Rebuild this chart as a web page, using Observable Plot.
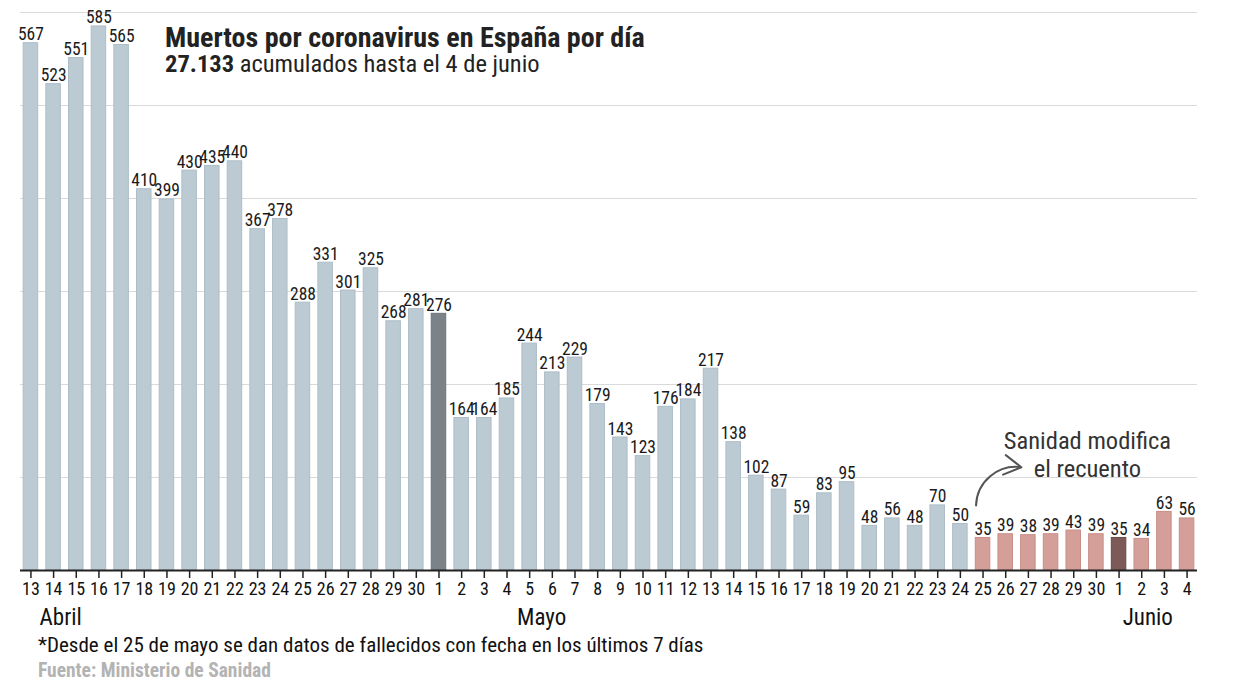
<!DOCTYPE html>
<html>
<head>
<meta charset="utf-8">
<script src="https://cdn.jsdelivr.net/npm/d3@7"></script>
<script src="https://cdn.jsdelivr.net/npm/@observablehq/plot@0.6"></script>
<style>
  body { margin: 0; background: #fff; font-family: "Roboto Condensed", "Liberation Sans Narrow", Roboto, sans-serif; }
  #wrap { position: relative; width: 1240px; height: 698px; }
  #title { position: absolute; left: 165px; top: 24px; font-size: 28px; font-weight: bold; color: #222; line-height: 28px; }
  #subtitle { position: absolute; left: 165px; top: 51px; font-size: 24.5px; color: #222; line-height: 26px; }
  #note { position: absolute; left: 38px; top: 632px; font-size: 21px; color: #111; line-height: 26px; }
  #source { position: absolute; left: 38px; top: 659px; font-size: 19.5px; font-weight: bold; color: #b3b3b3; line-height: 24px; }
  svg text { font-family: "Roboto Condensed", "Liberation Sans Narrow", Roboto, sans-serif; }
</style>
</head>
<body>
<div id="wrap">
  <div id="chart"></div>
  <div id="title">Muertos por coronavirus en España por día</div>
  <div id="subtitle"><b>27.133</b> acumulados hasta el 4 de junio</div>
  <div id="note">*Desde el 25 de mayo se dan datos de fallecidos con fecha en los últimos 7 días</div>
  <div id="source">Fuente: Ministerio de Sanidad</div>
</div>
<script>
const dates = [
  "2020-04-13","2020-04-14","2020-04-15","2020-04-16","2020-04-17","2020-04-18","2020-04-19","2020-04-20","2020-04-21","2020-04-22",
  "2020-04-23","2020-04-24","2020-04-25","2020-04-26","2020-04-27","2020-04-28","2020-04-29","2020-04-30",
  "2020-05-01","2020-05-02","2020-05-03","2020-05-04","2020-05-05","2020-05-06","2020-05-07","2020-05-08","2020-05-09","2020-05-10",
  "2020-05-11","2020-05-12","2020-05-13","2020-05-14","2020-05-15","2020-05-16","2020-05-17","2020-05-18","2020-05-19","2020-05-20",
  "2020-05-21","2020-05-22","2020-05-23","2020-05-24","2020-05-25","2020-05-26","2020-05-27","2020-05-28","2020-05-29","2020-05-30",
  "2020-06-01","2020-06-02","2020-06-03","2020-06-04"
];
const deaths = [
  567,523,551,585,565,410,399,430,435,440,
  367,378,288,331,301,325,268,281,
  276,164,164,185,244,213,229,179,143,123,
  176,184,217,138,102,87,59,83,95,48,
  56,48,70,50,35,39,38,39,43,39,
  35,34,63,56
];
const monthLabels = ["Abril","Mayo","Junio"];
const monthAnchors = ["2020-04-14","2020-05-05","2020-06-02"];
const changeDate = "2020-05-25";
const annotationText = "Sanidad modifica\nel recuento";

const data = dates.map((d, i) => ({
  date: d,
  value: deaths[i],
  first: d.slice(8) === "01",
  revised: d >= changeDate
}));

const fillOf = d => d.revised ? (d.first ? "#7c5a57" : "#d59f99") : (d.first ? "#7b8389" : "#bccad3");
const strokeOf = d => d.revised ? (d.first ? "#6a4a47" : "#c98d87") : (d.first ? "#6c747a" : "#adbdc7");

const monthMark = (i, dx) => Plot.text([{ date: monthAnchors[i], label: monthLabels[i] }], {
  x: "date", y: 0, text: "label", textAnchor: "middle", dx, dy: 47, fontSize: 23, fill: "#111"
});

const chart = Plot.plot({
  width: 1240,
  height: 632,
  marginLeft: 20,
  marginRight: 43,
  marginTop: 12,
  marginBottom: 62,
  x: { type: "band", domain: dates, paddingInner: 0.36, paddingOuter: 0.14, label: null },
  y: { domain: [0, 600], axis: null },
  marks: [
    Plot.gridY(d3.range(100, 601, 100), { stroke: "#dadada", strokeOpacity: 1, strokeWidth: 1 }),
    Plot.barY(data, { x: "date", y: "value", fill: fillOf, stroke: strokeOf, strokeWidth: 1 }),
    Plot.ruleY([0], { stroke: "#222", strokeWidth: 2 }),
    Plot.text(data, { x: "date", y: "value", text: d => String(d.value), lineAnchor: "bottom", dy: -3, fontSize: 17.5, fill: "#1a1a1a" }),
    Plot.axisX({ tickSize: 8, tickPadding: 4, fontSize: 18, tickFormat: d => String(+d.slice(8)), stroke: "#222", color: "#111", strokeWidth: 1.5, label: null }),
    monthMark(0, 7),
    monthMark(1, 12),
    monthMark(2, 6),
    Plot.arrow([{ x1: changeDate, y1: 70, x2: "2020-05-27", y2: 111 }], {
      x1: "x1", y1: "y1", x2: "x2", y2: "y2", bend: 48, dx: -7, stroke: "#555", strokeWidth: 2, headLength: 16
    }),
    Plot.text([{ date: "2020-05-30", label: annotationText }], {
      x: "date", y: 125, text: "label", dx: -9, fontSize: 24.5, fill: "#333", lineHeight: 1.15
    })
  ]
});
document.getElementById("chart").appendChild(chart);
</script>
</body>
</html>
